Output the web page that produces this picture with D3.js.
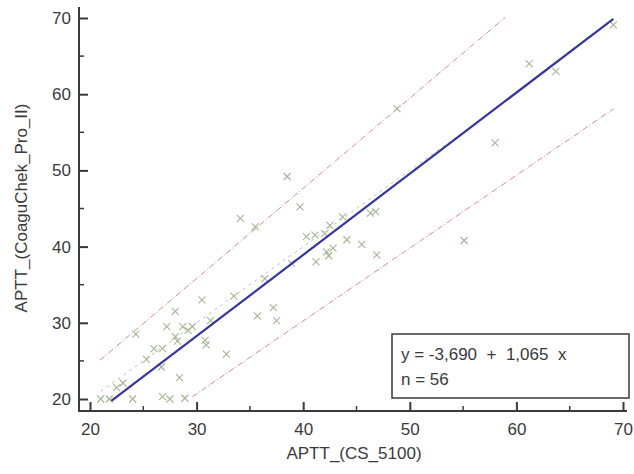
<!DOCTYPE html>
<html lang="en">
<head>
    <meta charset="UTF-8">
    <title>APTT comparison</title>
    <script src="https://d3js.org/d3.v7.min.js"></script>
    <style>
        body { margin: 0; background: #fff; }
        svg { display: block; }
        .tick text { font-family: "Liberation Sans", Arial, sans-serif; font-size: 17px; fill: #3a3a3a; }
        .axis-title { font-family: "Liberation Sans", Arial, sans-serif; font-size: 17px; fill: #3a3a3a; }
        .legend-text { font-family: "Liberation Sans", Arial, sans-serif; font-size: 17px; fill: #3a3a3a; }
    </style>
</head>
<body>
<svg id="chart"></svg>
<script>
    // measurements: CS_5100 (x) vs CoaguChek Pro II (y)
    const xValues = [21.0, 21.8, 24.0, 26.8, 27.5, 28.9, 28.4, 23.1, 26.7, 26.0,
                     26.8, 27.2, 28.0, 28.0, 28.2, 28.7, 29.6, 29.2, 30.5, 30.8,
                     30.9, 32.8, 24.3, 35.7, 37.2, 37.5, 34.1, 35.5, 39.7, 40.3,
                     41.1, 42.0, 42.2, 41.2, 38.5, 48.8, 61.2, 63.7, 69.1, 58.0,
                     46.8, 46.3, 55.1, 42.5, 43.7, 44.1, 45.5, 46.9, 42.8, 42.4,
                     22.5, 25.3, 31.3, 33.5, 36.4, 38.9];
    const yValues = [20.0, 20.0, 20.0, 20.3, 20.0, 20.1, 22.8, 22.1, 24.2, 26.6,
                     26.6, 29.5, 31.5, 28.2, 27.6, 29.5, 29.5, 29.0, 33.0, 27.7,
                     27.1, 25.9, 28.5, 30.9, 32.0, 30.3, 43.7, 42.6, 45.2, 41.3,
                     41.5, 41.7, 39.3, 38.0, 49.2, 58.1, 64.0, 63.0, 69.1, 53.6,
                     44.6, 44.4, 40.8, 42.8, 43.9, 40.9, 40.3, 38.9, 39.8, 38.8,
                     21.5, 25.2, 30.3, 33.5, 35.8, 37.8];

    const ticks = [20, 30, 40, 50, 60, 70];
    const minorTicks = [25, 35, 45, 55, 65];

    const intercept = -3.690, slope = 1.065, nObs = 56;
    const fitRange = [22.0, 69.1];
    const upperBand = [[20.94, 25.1], [58.97, 70.1]];
    const lowerBand = [[29.6, 20.3], [69.1, 58.06]];
    const identityRange = [21.0, 56.8];

    const width = 634, height = 474;
    const svg = d3.select("#chart").attr("width", width).attr("height", height);

    const x = d3.scaleLinear().domain([20, 70]).range([90, 623]);
    const y = d3.scaleLinear().domain([20, 70]).range([399, 18]);

    const axisColor = "#3a3a3a";
    const comma = v => v.toFixed(3).replace(".", ",");

    // identity line
    svg.append("line")
        .attr("x1", x(identityRange[0])).attr("y1", y(identityRange[0]))
        .attr("x2", x(identityRange[1])).attr("y2", y(identityRange[1]))
        .attr("stroke", "#b9c4ad").attr("stroke-width", 1)
        .attr("stroke-dasharray", "3,4");

    // prediction band lines
    [upperBand, lowerBand].forEach(b => {
        svg.append("line")
            .attr("x1", x(b[0][0])).attr("y1", y(b[0][1]))
            .attr("x2", x(b[1][0])).attr("y2", y(b[1][1]))
            .attr("stroke", "#d98c86").attr("stroke-width", 1)
            .attr("stroke-dasharray", "6,2,1,2");
    });

    // points
    const pts = xValues.map((v, i) => [v, yValues[i]]);
    const r = 3.5;
    const marks = svg.append("g").attr("stroke", "#a3b693").attr("stroke-width", 1.1);
    marks.selectAll("path").data(pts).enter().append("path")
        .attr("d", d => {
            const cx = x(d[0]), cy = y(d[1]);
            return `M${cx - r},${cy - r}L${cx + r},${cy + r}M${cx - r},${cy + r}L${cx + r},${cy - r}`;
        });

    // regression line
    svg.append("line")
        .attr("x1", x(fitRange[0])).attr("y1", y(intercept + slope * fitRange[0]))
        .attr("x2", x(fitRange[1])).attr("y2", y(intercept + slope * fitRange[1]))
        .attr("stroke", "#36369e").attr("stroke-width", 2.2);

    // axes
    const xAxis = svg.append("g")
        .attr("transform", "translate(0,411)")
        .call(d3.axisBottom(x).tickValues(ticks).tickSizeInner(-9).tickSizeOuter(0).tickPadding(12));
    xAxis.select(".domain").remove();
    xAxis.selectAll(".tick line").attr("stroke", axisColor).attr("stroke-width", 2);
    xAxis.selectAll("text").attr("dy", "0.71em");
    xAxis.selectAll(".minor").data(minorTicks).enter().append("line")
        .attr("x1", d => x(d)).attr("x2", d => x(d))
        .attr("y1", 0).attr("y2", -5)
        .attr("stroke", axisColor).attr("stroke-width", 1.5);

    const yAxis = svg.append("g")
        .attr("transform", "translate(79,0)")
        .call(d3.axisLeft(y).tickValues(ticks).tickSizeInner(-9).tickSizeOuter(0).tickPadding(8));
    yAxis.select(".domain").remove();
    yAxis.selectAll(".tick line").attr("stroke", axisColor).attr("stroke-width", 2);
    yAxis.selectAll(".minor").data(minorTicks).enter().append("line")
        .attr("y1", d => y(d)).attr("y2", d => y(d))
        .attr("x1", 0).attr("x2", 5)
        .attr("stroke", axisColor).attr("stroke-width", 1.5);

    svg.append("path")
        .attr("d", "M79,7V411H627")
        .attr("fill", "none").attr("stroke", axisColor).attr("stroke-width", 2);

    // axis titles
    svg.append("text").attr("class", "axis-title")
        .attr("x", 354).attr("y", 459).attr("text-anchor", "middle")
        .text("APTT_(CS_5100)");
    svg.append("text").attr("class", "axis-title")
        .attr("transform", "translate(27,208) rotate(-90)")
        .attr("text-anchor", "middle")
        .text("APTT_(CoaguChek_Pro_II)");

    // equation box
    const box = svg.append("g").attr("transform", "translate(392,334)");
    box.append("rect").attr("width", 237).attr("height", 64)
        .attr("fill", "#fff").attr("stroke", axisColor).attr("stroke-width", 1.5);
    box.append("text").attr("class", "legend-text").attr("x", 9).attr("y", 26)
        .attr("xml:space", "preserve")
        .text(`y = ${comma(intercept)}  +  ${comma(slope)}  x`);
    box.append("text").attr("class", "legend-text").attr("x", 9).attr("y", 51)
        .text(`n = ${nObs}`);
</script>
</body>
</html>
